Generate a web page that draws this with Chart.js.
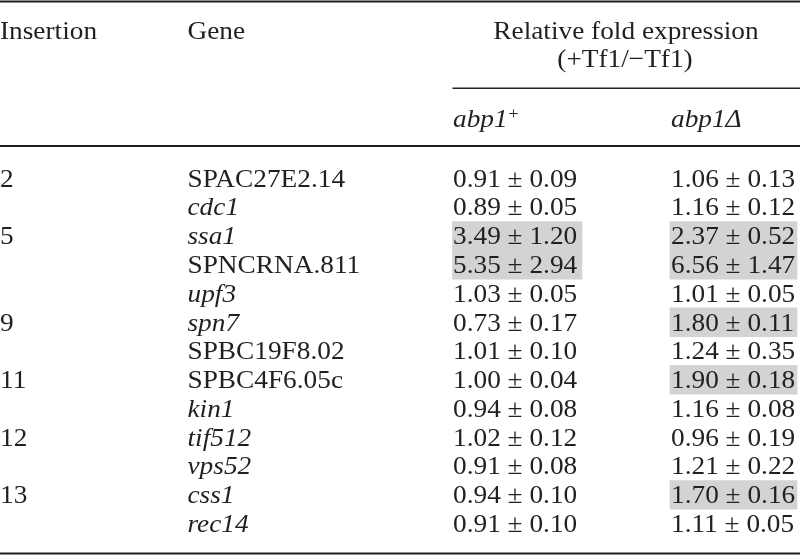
<!DOCTYPE html>
<html>
<head>
<meta charset="utf-8">
<script src="https://cdn.jsdelivr.net/npm/chart.js@4/dist/chart.umd.min.js"></script>
<style>
  html, body { margin: 0; padding: 0; background: #fff; }
  canvas { display: block; }
</style>
</head>
<body>
<canvas id="tableChart" width="800" height="555"></canvas>
<script>
// table data, one entry per row
const insertions = ['2', '', '5', '', '', '9', '', '11', '', '12', '', '13', ''];
const genes = ['SPAC27E2.14', 'cdc1', 'ssa1', 'SPNCRNA.811', 'upf3', 'spn7', 'SPBC19F8.02',
               'SPBC4F6.05c', 'kin1', 'tif512', 'vps52', 'css1', 'rec14'];
const geneItalic = [false, true, true, false, true, true, false, false, true, true, true, true, true];

// relative fold expression (+Tf1/-Tf1), mean and error
const wtMean = [0.91, 0.89, 3.49, 5.35, 1.03, 0.73, 1.01, 1.00, 0.94, 1.02, 0.91, 0.94, 0.91];
const wtErr  = [0.09, 0.05, 1.20, 2.94, 0.05, 0.17, 0.10, 0.04, 0.08, 0.12, 0.08, 0.10, 0.10];
const delMean = [1.06, 1.16, 2.37, 6.56, 1.01, 1.80, 1.24, 1.90, 1.16, 0.96, 1.21, 1.70, 1.11];
const delErr  = [0.13, 0.12, 0.52, 1.47, 0.05, 0.11, 0.35, 0.18, 0.08, 0.19, 0.22, 0.16, 0.05];

// highlighted (grey) cells
const wtShaded  = [false, false, true, true, false, false, false, false, false, false, false, false, false];
const delShaded = [false, false, true, true, false, true, false, true, false, false, false, true, false];

// --- layout / style ---
const ink = '#231f20';
const shade = '#d3d3d3';
const serif = '"Liberation Serif", "Times New Roman", serif';
const fontSize = 26;
const stretch = 1.05; // the scan is a little wider than the font

// column starts on the x scale (0..800)
const cols = { ins: 0, gene: 187.5, wt: 453, del: 671 };
const shadeSpan = { wt: [452.5, 582], del: [670, 797] };

function fmt(m, e) { return m.toFixed(2) + ' \u00b1 ' + e.toFixed(2); }

// draws text squeezed/stretched horizontally, returns drawn width
function txt(ctx, s, x, y, align) {
    ctx.save();
    ctx.translate(x, y);
    ctx.scale(stretch, 1);
    ctx.textAlign = align || 'left';
    ctx.fillText(s, 0, 0);
    const w = ctx.measureText(s).width * stretch;
    ctx.restore();
    return w;
}

function rule(ctx, x0, x1, y, w) {
    ctx.fillStyle = ink;
    ctx.fillRect(x0, y, x1 - x0, w);
}

const tablePlugin = {
    id: 'tableText',
    afterDatasetsDraw(chart) {
        const ctx = chart.ctx;
        const x = chart.scales.x;
        const y = chart.scales.y;
        ctx.save();
        ctx.fillStyle = ink;
        ctx.textBaseline = 'alphabetic';

        // header
        ctx.font = fontSize + 'px ' + serif;
        txt(ctx, 'Insertion', x.getPixelForValue(cols.ins), 38.5);
        txt(ctx, 'Gene', x.getPixelForValue(cols.gene), 38.5);
        txt(ctx, 'Relative fold expression', 626, 38.5, 'center');
        txt(ctx, '(+Tf1/\u2212Tf1)', 625, 67, 'center');

        ctx.font = 'italic ' + fontSize + 'px ' + serif;
        const wx = x.getPixelForValue(cols.wt);
        const ww = txt(ctx, 'abp1', wx, 126.5);
        ctx.font = '17px ' + serif;
        txt(ctx, '+', wx + ww + 1, 118.5);
        ctx.font = 'italic ' + fontSize + 'px ' + serif;
        txt(ctx, 'abp1\u0394', x.getPixelForValue(cols.del), 126.5);

        // rules
        rule(ctx, 0, 800, 0.5, 2);
        rule(ctx, 452.5, 800, 87.5, 1.5);
        rule(ctx, 0, 800, 145, 2);
        rule(ctx, 0, 800, 552.5, 2);

        // body rows
        ctx.fillStyle = ink;
        genes.forEach((g, i) => {
            const base = y.getPixelForValue(i) + 8.3;
            ctx.font = fontSize + 'px ' + serif;
            if (insertions[i]) txt(ctx, insertions[i], x.getPixelForValue(cols.ins), base);
            txt(ctx, fmt(wtMean[i], wtErr[i]), x.getPixelForValue(cols.wt), base);
            txt(ctx, fmt(delMean[i], delErr[i]), x.getPixelForValue(cols.del), base);
            ctx.font = (geneItalic[i] ? 'italic ' : '') + fontSize + 'px ' + serif;
            txt(ctx, g, x.getPixelForValue(cols.gene), base);
        });
        ctx.restore();
    }
};

new Chart(document.getElementById('tableChart'), {
    type: 'bar',
    data: {
        labels: genes,
        datasets: [
            { label: 'abp1+', data: wtShaded.map(s => s ? shadeSpan.wt : null), backgroundColor: shade },
            { label: 'abp1Δ', data: delShaded.map(s => s ? shadeSpan.del : null), backgroundColor: shade }
        ]
    },
    options: {
        indexAxis: 'y',
        responsive: false,
        animation: false,
        devicePixelRatio: 1,
        layout: { padding: { top: 164, bottom: 17, left: 0, right: 0 } },
        datasets: { bar: { grouped: false, barPercentage: 1, categoryPercentage: 1, borderWidth: 0 } },
        scales: {
            x: { type: 'linear', min: 0, max: 800, display: false },
            y: { type: 'category', display: false, offset: true }
        },
        plugins: { legend: { display: false }, tooltip: { enabled: false } }
    },
    plugins: [tablePlugin]
});
</script>
</body>
</html>
